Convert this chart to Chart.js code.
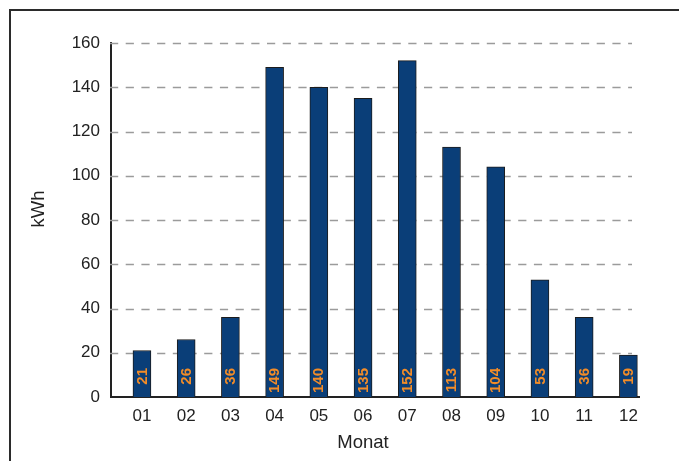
<!DOCTYPE html>
<html>
<head>
<meta charset="utf-8">
<script src="https://cdn.jsdelivr.net/npm/chart.js@4/dist/chart.umd.min.js"></script>
<style>
  html, body { margin: 0; padding: 0; background: #fff; overflow: hidden; }
  #wrap { position: relative; width: 679px; height: 461px; }
  #frame { position: absolute; left: 9px; top: 9px; width: 700px; height: 480px;
           border-top: 2px solid #2b2b2b; border-left: 2px solid #2b2b2b; }
  canvas { position: absolute; left: 0; top: 0; }
</style>
</head>
<body>
<div id="wrap">
  <div id="frame"></div>
  <canvas id="c" width="679" height="461"></canvas>
</div>
<script>
// Monthly energy yield
const months = ['01', '02', '03', '04', '05', '06', '07', '08', '09', '10', '11', '12'];
const kwh = [21, 26, 36, 149, 140, 135, 152, 113, 104, 53, 36, 19];
const yTicks = [0, 20, 40, 60, 80, 100, 120, 140, 160];
const xTitle = 'Monat';
const yTitle = 'kWh';

const FONT = '"Liberation Sans", Arial, Helvetica, sans-serif';

// dashed horizontal guides behind the bars
const dashedGrid = {
  id: 'dashedGrid',
  beforeDatasetsDraw(chart) {
    const { ctx, scales: { y }, chartArea } = chart;
    ctx.save();
    ctx.strokeStyle = '#9b9b9b';
    ctx.lineWidth = 1.5;
    ctx.setLineDash([8.2, 7.5]);
    yTicks.forEach(v => {
      if (v === 0) return;
      const py = Math.round(y.getPixelForValue(v)) + 0.5;
      ctx.beginPath();
      ctx.moveTo(chartArea.left - 1, py);
      ctx.lineTo(chartArea.right - 7, py);
      ctx.stroke();
    });
    ctx.restore();
  }
};

// vertical value labels near the foot of each bar
const barValues = {
  id: 'barValues',
  afterDatasetsDraw(chart) {
    const { ctx } = chart;
    const meta = chart.getDatasetMeta(0);
    ctx.save();
    ctx.fillStyle = '#f28c28';
    ctx.font = 'bold 15px ' + FONT;
    ctx.textAlign = 'right';
    ctx.textBaseline = 'middle';
    meta.data.forEach((bar, i) => {
      ctx.save();
      ctx.translate(bar.x + 0.5, bar.base - 29);
      ctx.rotate(-Math.PI / 2);
      ctx.fillText(String(kwh[i]), 0, 0);
      ctx.restore();
    });
    ctx.restore();
  }
};

// axis titles
const axisTitles = {
  id: 'axisTitles',
  afterDraw(chart) {
    const { ctx } = chart;
    ctx.save();
    ctx.fillStyle = '#222';
    ctx.font = '18.5px ' + FONT;
    ctx.textAlign = 'center';
    ctx.textBaseline = 'middle';
    ctx.fillText(xTitle, 363, 443);
    ctx.translate(39, 209);
    ctx.rotate(-Math.PI / 2);
    ctx.fillText(yTitle, 0, 0);
    ctx.restore();
  }
};

new Chart(document.getElementById('c'), {
  type: 'bar',
  data: {
    datasets: [{
      data: kwh.map((v, i) => ({ x: i, y: v })),
      backgroundColor: '#0a3e78',
      borderColor: '#1c1c1c',
      borderWidth: 1,
      borderSkipped: 'bottom',
      barThickness: 18
    }]
  },
  options: {
    responsive: false,
    animation: false,
    events: [],
    layout: { padding: { top: 43, right: 40, left: 0, bottom: 0 } },
    plugins: { legend: { display: false }, tooltip: { enabled: false } },
    scales: {
      x: {
        type: 'linear',
        offset: false,
        min: -0.7,
        max: 11.24,
        afterFit(s) { s.height = 64; },
        afterBuildTicks(s) { s.ticks = months.map((_, i) => ({ value: i })); },
        grid: { display: false, drawTicks: false, offset: false },
        border: { display: true, color: '#222', width: 2 },
        ticks: {
          autoSkip: false,
          maxRotation: 0,
          padding: 9,
          color: '#222',
          font: { family: FONT, size: 17 },
          callback: v => months[v]
        }
      },
      y: {
        min: 0,
        max: 160,
        afterFit(s) { s.width = 111; },
        afterBuildTicks(s) { s.ticks = yTicks.map(v => ({ value: v })); },
        grid: { display: false, drawTicks: false },
        border: { display: true, color: '#222', width: 2 },
        ticks: {
          padding: 11,
          color: '#222',
          font: { family: FONT, size: 17 }
        }
      }
    }
  },
  plugins: [dashedGrid, barValues, axisTitles]
});
</script>
</body>
</html>
